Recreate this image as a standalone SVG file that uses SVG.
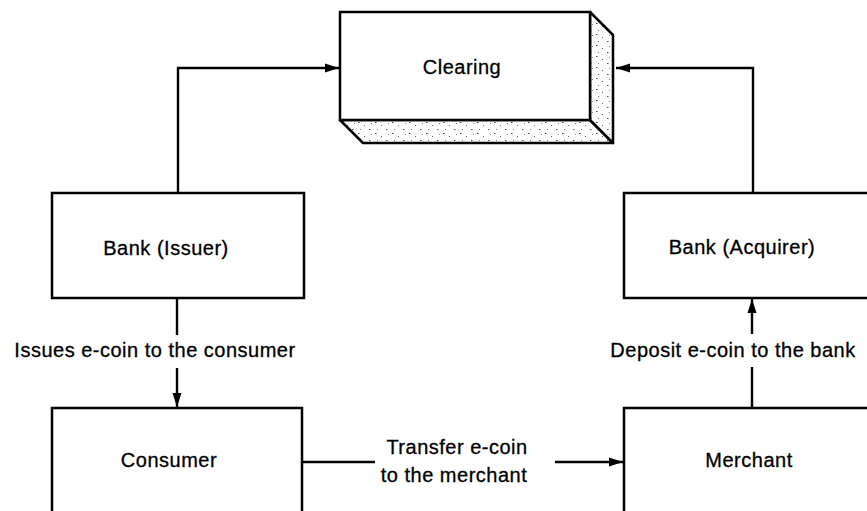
<svg xmlns="http://www.w3.org/2000/svg" width="867" height="511" viewBox="0 0 867 511">
<style>
.box{fill:#fff;stroke:#000;stroke-width:2.5}
.face{fill:url(#stipple);stroke:#000;stroke-width:2.5;stroke-linejoin:round}
.conn{fill:none;stroke:#000;stroke-width:2.4}
text{font-family:"Liberation Sans",Arial,Helvetica,sans-serif;font-size:20px;letter-spacing:0.5px;fill:#000;stroke:#000;stroke-width:0.3;text-anchor:middle}
</style>
<defs>
<pattern id="stipple" width="17" height="11" patternUnits="userSpaceOnUse">
<rect width="17" height="11" fill="#fff"/>
<rect x="1" y="1" width="1.5" height="1" fill="#444"/>
<rect x="7" y="4" width="1" height="1" fill="#666"/>
<rect x="12" y="8" width="1.5" height="1" fill="#555"/>
<rect x="3" y="8" width="1" height="1" fill="#777"/>
<rect x="14" y="2" width="1" height="1" fill="#888"/>
</pattern>
<marker id="arr" viewBox="0 0 14 10" refX="14" refY="5" markerWidth="14" markerHeight="10" markerUnits="userSpaceOnUse" orient="auto">
<path d="M0,0.5 L14,5 L0,9.5 Z" fill="#000"/>
</marker>
</defs>

<g id="clearing">
<polygon class="face" points="340,120 590,120 613,143 363,143"/>
<polygon class="face" points="590,12 613,35 613,143 590,120"/>
<rect class="box" x="340" y="12" width="250" height="108"/>
<text x="462" y="74">Clearing</text>
</g>

<g id="bank-issuer">
<rect class="box" x="52" y="193" width="252" height="105"/>
<text x="166" y="255">Bank (Issuer)</text>
</g>

<g id="bank-acquirer">
<rect class="box" x="624" y="193" width="260" height="105"/>
<text x="742" y="254">Bank (Acquirer)</text>
</g>

<g id="consumer">
<rect class="box" x="52" y="408" width="250" height="120"/>
<text x="169" y="467">Consumer</text>
</g>

<g id="merchant">
<rect class="box" x="624" y="408" width="260" height="120"/>
<text x="749" y="467">Merchant</text>
</g>

<g id="connectors">
<path class="conn" d="M178,193 V68 H339" marker-end="url(#arr)"/>
<path class="conn" d="M753,193 V68 H616" marker-end="url(#arr)"/>
<path class="conn" d="M177,298 V335"/>
<path class="conn" d="M177,368 V407" marker-end="url(#arr)"/>
<text x="155" y="357">Issues e-coin to the consumer</text>
<path class="conn" d="M752,408 V367"/>
<path class="conn" d="M752,334 V299" marker-end="url(#arr)"/>
<text x="733" y="357">Deposit e-coin to the bank</text>
<path class="conn" d="M302,462 H375"/>
<path class="conn" d="M555,462 H623" marker-end="url(#arr)"/>
<text x="457" y="454">Transfer e-coin</text>
<text x="454" y="482">to the merchant</text>
</g>
</svg>
